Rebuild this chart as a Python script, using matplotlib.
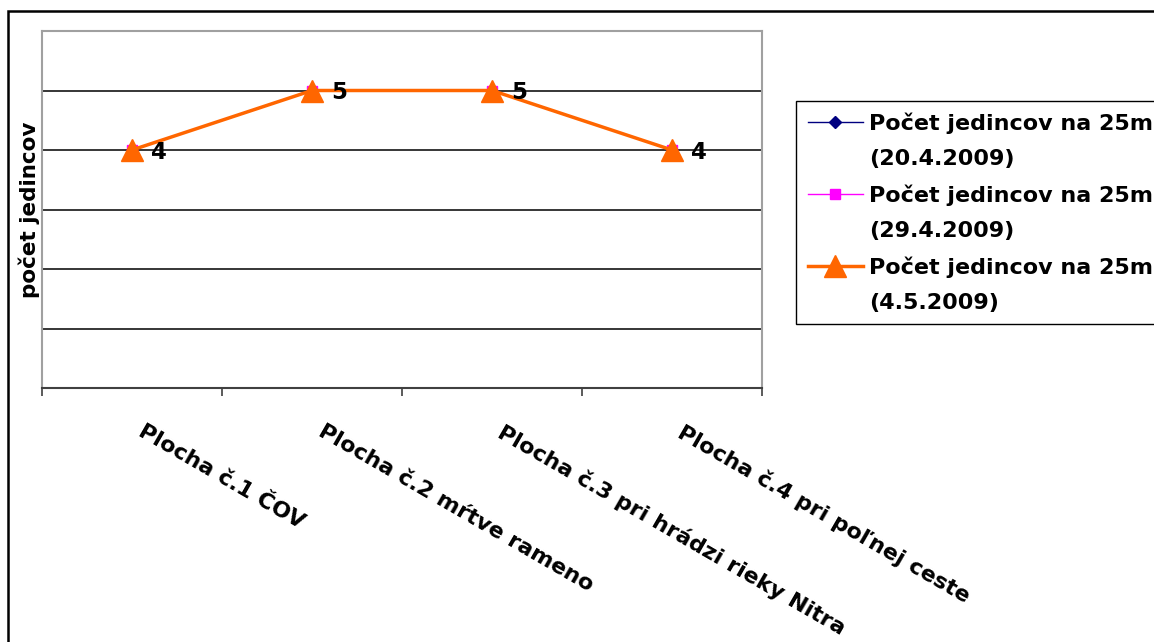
import matplotlib
matplotlib.use("Agg")
import matplotlib.pyplot as plt
from matplotlib.lines import Line2D
from matplotlib.patches import Rectangle
import matplotlib.transforms as mtransforms

plt.rcParams['font.family'] = ['DejaVu Sans']
plt.rcParams['font.weight'] = 'bold'

categories = ['Plocha č.1 ČOV', 'Plocha č.2 mŕtve rameno',
              'Plocha č.3 pri hrádzi rieky Nitra', 'Plocha č.4 pri poľnej ceste']
count_2004 = [4, 5, 5, 4]   # 20.4.2009
count_2904 = [4, 5, 5, 4]   # 29.4.2009
count_0405 = [4, 5, 5, 4]   # 4.5.2009
series_name = 'Počet jedincov na 25m'
series_dates = ['(20.4.2009)', '(29.4.2009)', '(4.5.2009)']

W, H = 1154, 642
fig = plt.figure(figsize=(W / 100, H / 100), dpi=100)
fig.patch.set_facecolor('white')

# outer chart frame (runs off the right and bottom edge)
fig.patches.append(Rectangle((8 / W, -0.2), 1.5, 1 - 11 / H + 0.2,
                             transform=fig.transFigure, fill=False,
                             edgecolor='black', linewidth=1.8))

ax = fig.add_axes([42 / W, 1 - 388 / H, (762 - 42) / W, (388 - 31) / H])
x = [i + 0.5 for i in range(len(categories))]

styles = [
    (count_2004, dict(color='#000080', marker='D', markersize=6.6, linewidth=1.0)),
    (count_2904, dict(color='#FF00FF', marker='s', markersize=7, linewidth=1.0)),
    (count_0405, dict(color='#FF6600', marker='^', markersize=16, linewidth=2.5)),
]
handles = []
for vals, st in styles:
    line, = ax.plot(x, vals, zorder=3, clip_on=False, **st)
    handles.append(line)

# value labels
for xi, v in zip(x, count_0405):
    ax.annotate(str(v), (xi, v), xytext=(14, -1.5), textcoords='offset points',
                ha='left', va='center', fontsize=16.5, fontweight='bold', zorder=4)

ax.set_xlim(0, 4)
ax.set_ylim(0, 6)
ax.set_yticks([1, 2, 3, 4, 5])
ax.set_yticklabels([])
ax.tick_params(axis='y', length=0)
ax.grid(axis='y', color='black', linewidth=1.1)
ax.set_axisbelow(True)

# category boundaries get the tick marks, labels sit at the centres
ax.set_xticks([0, 1, 2, 3, 4], minor=True)
ax.tick_params(axis='x', which='minor', length=6, width=1.2, color='#404040', direction='out')
ax.set_xticks(x)
ax.set_xticklabels(categories, rotation=-30, ha='left', va='top',
                   rotation_mode='anchor', fontsize=16, fontweight='bold')
ax.tick_params(axis='x', which='major', length=0, pad=24)
offset = mtransforms.ScaledTranslation(13 / 100, 0, fig.dpi_scale_trans)
for lbl in ax.get_xticklabels():
    lbl.set_transform(lbl.get_transform() + offset)

for side in ['left', 'top', 'right']:
    ax.spines[side].set_color('#A0A0A0')
    ax.spines[side].set_linewidth(1.5)
ax.spines['bottom'].set_color('#404040')
ax.spines['bottom'].set_linewidth(1.5)

ax.set_ylabel('počet jedincov', fontsize=15.5, fontweight='bold')
ax.yaxis.set_label_coords(-0.003, 0.5)

# legend: series name on the handle row, date on the row below
blank = Line2D([], [], linestyle='none', marker=None)
leg_handles, leg_labels = [], []
for h, d in zip(handles, series_dates):
    leg_handles += [h, blank]
    leg_labels += [series_name, d]

leg = fig.legend(leg_handles, leg_labels, loc='upper left',
                 bbox_to_anchor=(796 / W, 1 - 101 / H), fontsize=16,
                 frameon=True, fancybox=False, edgecolor='black', framealpha=1,
                 handlelength=2.5, handletextpad=0.25, borderpad=0.52,
                 labelspacing=0.68, borderaxespad=0)
leg.get_frame().set_linewidth(1.0)

fig.savefig('out.png', dpi=100)
